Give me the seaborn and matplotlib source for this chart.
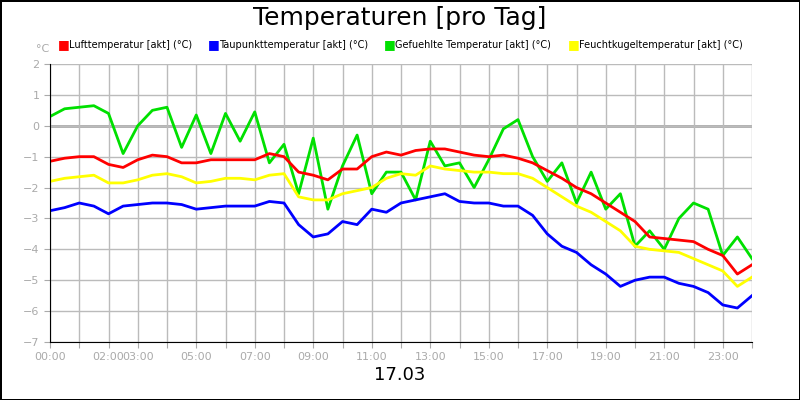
import numpy as np
import pandas as pd
import seaborn as sns
import matplotlib.pyplot as plt

# half-hourly readings, 00:00 .. 24:00
hours = np.arange(0, 24.01, 0.5)
luft = [-1.15, -1.05, -1.0, -1.0, -1.25, -1.35, -1.1, -0.95, -1.0, -1.2, -1.2, -1.1,
        -1.1, -1.1, -1.1, -0.9, -1.0, -1.5, -1.6, -1.75, -1.4, -1.4, -1.0, -0.85,
        -0.95, -0.8, -0.75, -0.75, -0.85, -0.95, -1.0, -0.95, -1.05, -1.2, -1.45, -1.7,
        -2.0, -2.2, -2.5, -2.8, -3.1, -3.6, -3.65, -3.7, -3.75, -4.0, -4.2, -4.8,
        -4.5]
taupunkt = [-2.75, -2.65, -2.5, -2.6, -2.85, -2.6, -2.55, -2.5, -2.5, -2.55, -2.7, -2.65,
            -2.6, -2.6, -2.6, -2.45, -2.5, -3.2, -3.6, -3.5, -3.1, -3.2, -2.7, -2.8,
            -2.5, -2.4, -2.3, -2.2, -2.45, -2.5, -2.5, -2.6, -2.6, -2.9, -3.5, -3.9,
            -4.1, -4.5, -4.8, -5.2, -5.0, -4.9, -4.9, -5.1, -5.2, -5.4, -5.8, -5.9,
            -5.5]
feucht = [-1.8, -1.7, -1.65, -1.6, -1.85, -1.85, -1.75, -1.6, -1.55, -1.65, -1.85, -1.8,
          -1.7, -1.7, -1.75, -1.6, -1.55, -2.3, -2.4, -2.4, -2.2, -2.1, -2.0, -1.7,
          -1.55, -1.6, -1.3, -1.4, -1.45, -1.5, -1.5, -1.55, -1.55, -1.7, -2.0, -2.3,
          -2.6, -2.8, -3.1, -3.4, -3.9, -4.0, -4.05, -4.1, -4.3, -4.5, -4.7, -5.2,
          -4.9]
gefuehlt = [0.3, 0.55, 0.6, 0.65, 0.4, -0.9, 0.0, 0.5, 0.6, -0.7, 0.35, -0.9,
            0.4, -0.5, 0.45, -1.2, -0.6, -2.2, -0.4, -2.7, -1.3, -0.3, -2.2, -1.5,
            -1.5, -2.4, -0.5, -1.3, -1.2, -2.0, -1.1, -0.1, 0.2, -1.0, -1.8, -1.2,
            -2.5, -1.5, -2.7, -2.2, -3.9, -3.4, -4.0, -3.0, -2.5, -2.7, -4.2, -3.6,
            -4.3]

df = pd.DataFrame({"h": hours,
                   "Lufttemperatur [akt] (°C)": luft,
                   "Taupunkttemperatur [akt] (°C)": taupunkt,
                   "Gefuehlte Temperatur [akt] (°C)": gefuehlt,
                   "Feuchtkugeltemperatur [akt] (°C)": feucht})
colors = ["#ff0000", "#0000ff", "#00e000", "#ffff00"]
names = list(df.columns[1:])
tick_hours = [0, 2, 3, 5, 7, 9, 11, 13, 15, 17, 19, 21, 23]

fig = plt.figure(figsize=(8, 4), dpi=100)
fig.patch.set_edgecolor("black")
fig.patch.set_linewidth(2)
ax = fig.add_axes([0.0625, 0.145, 0.8775, 0.695])

# draw order: green under the others
for name, c in [(names[2], colors[2]), (names[3], colors[3]), (names[0], colors[0]), (names[1], colors[1])]:
    sns.lineplot(data=df, x="h", y=name, color=c, lw=2, ax=ax, legend=False)

ax.set_xlim(0, 24)
ax.set_ylim(-7, 2)
ax.set_xticks(range(25))
ax.set_xticklabels([f"{h:02d}:00" if h in tick_hours else "" for h in range(25)])
ax.set_yticks(range(-7, 3))
ax.grid(color="#bbbbbb", lw=1)
ax.axhline(0, color="#aaaaaa", lw=2, zorder=0)
ax.set_axisbelow(True)
ax.tick_params(colors="#aaaaaa", labelsize=8, labelcolor="#aaaaaa", length=4)
for s in ["top", "right"]:
    ax.spines[s].set_visible(False)
for s in ["left", "bottom"]:
    ax.spines[s].set_color("black")
ax.set_xlabel("")
ax.set_ylabel("")

fig.text(0.5, 0.955, "Temperaturen [pro Tag]", ha="center", va="center", fontsize=18)
fig.text(0.045, 0.87, "°C", color="#aaaaaa", fontsize=8)
xs = [0.072, 0.26, 0.48, 0.71]
for x, n, c in zip(xs, names, colors):
    fig.text(x, 0.888, "\u25a0", color=c, fontsize=9, va="center")
    fig.text(x + 0.014, 0.888, n, fontsize=7, va="center")
fig.text(0.5, 0.05, "17.03", ha="center", fontsize=13)

fig.savefig("out.png", dpi=100, edgecolor="black")
